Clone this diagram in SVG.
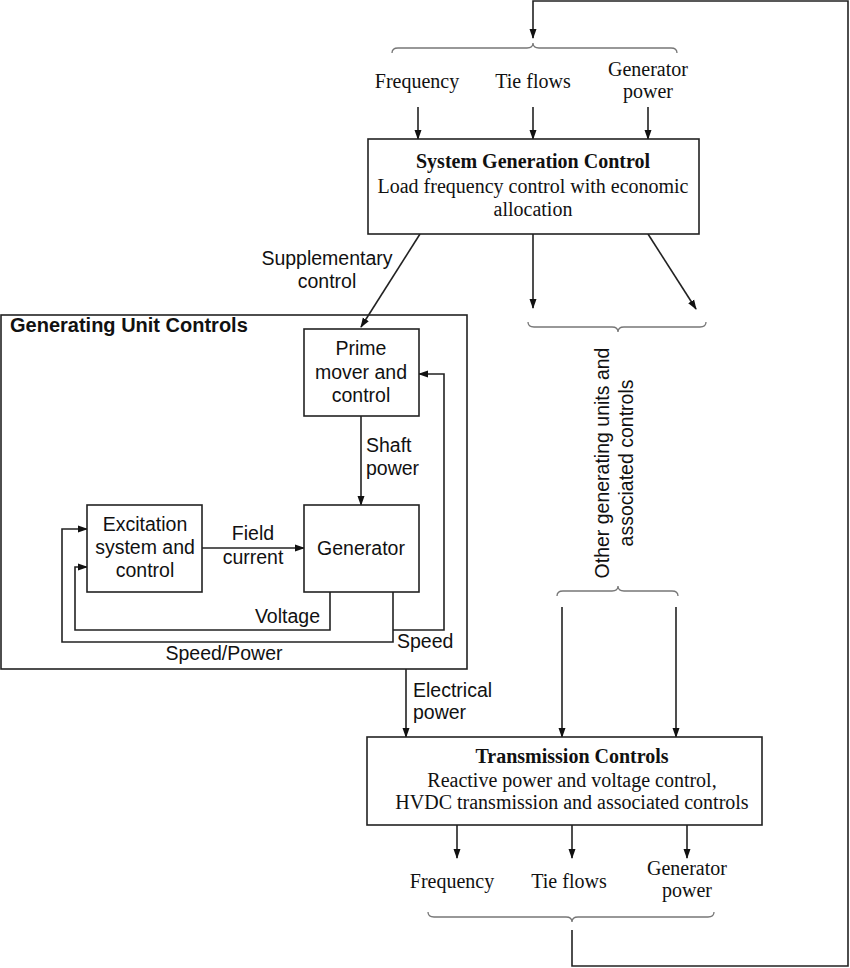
<svg xmlns="http://www.w3.org/2000/svg" width="850" height="968" viewBox="0 0 850 968">
  <defs>
    <marker id="arrow" markerUnits="userSpaceOnUse" markerWidth="10" markerHeight="8" refX="9" refY="4" orient="auto">
      <path d="M0,0.5 L10,4 L0,7.5 z" fill="#111"/>
    </marker>
    <style>
      .box { fill: #fff; stroke: #222; stroke-width: 1.6; }
      .line { fill: none; stroke: #222; stroke-width: 1.6; }
      .arr { fill: none; stroke: #222; stroke-width: 1.6; marker-end: url(#arrow); }
      .brace { fill: none; stroke: #777; stroke-width: 1.3; }
      .serif { font-family: "Liberation Serif", "Times New Roman", serif; font-size: 20px; fill: #111; }
      .sans { font-family: "Liberation Sans", Arial, sans-serif; font-size: 19.5px; fill: #111; }
      .b { font-weight: bold; }
      .sans.b { font-size: 20px; }
      .mid { text-anchor: middle; }
      .end { text-anchor: end; }
    </style>
  </defs>
  <rect width="850" height="968" fill="#fff"/>

  <!-- braces grouping the signal sets -->
  <g id="braces">
    <path class="brace" d="M392,53 Q392,48 398,48 L527,48 Q533,48 533,43 Q533,48 539,48 L671,48 Q677,48 677,53"/>
    <path class="brace" d="M528,322 Q528,327 534,327 L612,327 Q618,327 618,332 Q618,327 624,327 L700,327 Q706,327 706,322"/>
    <path class="brace" d="M557,596 Q557,591 563,591 L612,591 Q618,591 618,586 Q618,591 624,591 L672,591 Q678,591 678,596"/>
    <path class="brace" d="M428,912 Q428,917 434,917 L566,917 Q572,917 572,922 Q572,917 578,917 L708,917 Q714,917 714,912"/>
  </g>

  <!-- connectors -->
  <g id="connectors">
    <path class="arr" d="M572,930 V966 H848 V1 H533 V38"/>
    <path class="arr" d="M418,107 V139"/>
    <path class="arr" d="M533,107 V139"/>
    <path class="arr" d="M648,107 V139"/>
    <path class="arr" d="M420,234 L361,327"/>
    <path class="arr" d="M533,234 V308"/>
    <path class="arr" d="M648,234 L696,309"/>
    <path class="arr" d="M361,416 V505"/>
    <path class="arr" d="M202,548 H304"/>
    <path class="arr" d="M330,592 V630 H75 V567 H87"/>
    <path class="arr" d="M393,592 V642 H62 V529 H87"/>
    <path class="arr" d="M393,630 H444 V374 H419"/>
    <path class="arr" d="M406,669 V737"/>
    <path class="arr" d="M562,607 V737"/>
    <path class="arr" d="M676,607 V737"/>
    <path class="arr" d="M457,825 V858"/>
    <path class="arr" d="M572,825 V858"/>
    <path class="arr" d="M687,825 V858"/>
  </g>

  <!-- connector labels -->
  <g id="labels">
    <text class="serif mid" x="417" y="88">Frequency</text>
    <text class="serif mid" x="533" y="88">Tie flows</text>
    <text class="serif mid" x="648" y="76">Generator</text>
    <text class="serif mid" x="648" y="98">power</text>
    <text class="sans mid" x="327" y="265">Supplementary</text>
    <text class="sans mid" x="327" y="288">control</text>
    <text class="sans" x="366" y="452">Shaft</text>
    <text class="sans" x="366" y="475">power</text>
    <text class="sans mid" x="253" y="540">Field</text>
    <text class="sans mid" x="253" y="564">current</text>
    <text class="sans end" x="320" y="623">Voltage</text>
    <text class="sans" x="397" y="648">Speed</text>
    <text class="sans mid" x="224" y="660">Speed/Power</text>
    <text class="sans" x="413" y="697">Electrical</text>
    <text class="sans" x="413" y="719">power</text>
    <g transform="translate(609,463) rotate(-90)">
      <text class="sans mid" x="0" y="0">Other generating units and</text>
      <text class="sans mid" x="0" y="24">associated controls</text>
    </g>
    <text class="serif mid" x="452" y="888">Frequency</text>
    <text class="serif mid" x="569" y="888">Tie flows</text>
    <text class="serif mid" x="687" y="875">Generator</text>
    <text class="serif mid" x="687" y="897">power</text>
  </g>

  <g id="system-generation-control">
    <rect class="box" x="368" y="139" width="331" height="95"/>
    <text class="serif mid b" x="533" y="168">System Generation Control</text>
    <text class="serif mid" x="533" y="193">Load frequency control with economic</text>
    <text class="serif mid" x="533" y="216">allocation</text>
  </g>

  <g id="generating-unit-controls">
    <rect x="1" y="315" width="466" height="354" fill="none" stroke="#222" stroke-width="1.6"/>
    <text class="sans b" x="10" y="332">Generating Unit Controls</text>
  </g>

  <g id="prime-mover">
    <rect class="box" x="304" y="329" width="115" height="87"/>
    <text class="sans mid" x="361" y="355">Prime</text>
    <text class="sans mid" x="361" y="379">mover and</text>
    <text class="sans mid" x="361" y="402">control</text>
  </g>

  <g id="generator">
    <rect class="box" x="304" y="505" width="115" height="87"/>
    <text class="sans mid" x="361" y="555">Generator</text>
  </g>

  <g id="excitation">
    <rect class="box" x="87" y="505" width="115" height="87"/>
    <text class="sans mid" x="145" y="531">Excitation</text>
    <text class="sans mid" x="145" y="554">system and</text>
    <text class="sans mid" x="145" y="577">control</text>
  </g>

  <g id="transmission-controls">
    <rect class="box" x="367" y="737" width="395" height="88"/>
    <text class="serif mid b" x="572" y="763">Transmission Controls</text>
    <text class="serif mid" x="572" y="787">Reactive power and voltage control,</text>
    <text class="serif mid" x="572" y="809">HVDC transmission and associated controls</text>
  </g>
</svg>
